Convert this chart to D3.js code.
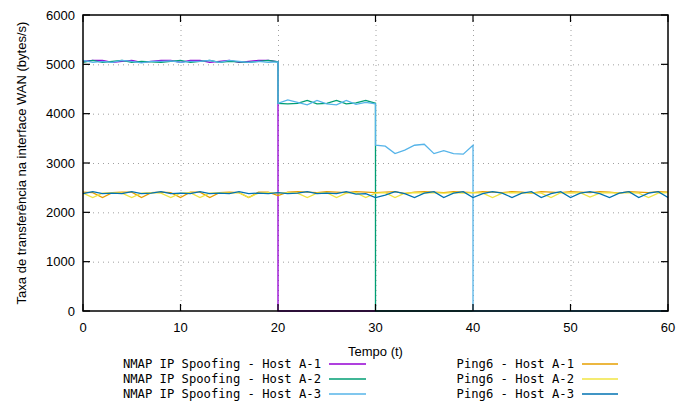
<!DOCTYPE html>
<html>
<head>
<meta charset="utf-8">
<script src="https://cdn.jsdelivr.net/npm/d3@7"></script>
<style>
  html, body { margin: 0; padding: 0; background: #fff; }
  svg { display: block; }
</style>
</head>
<body>
<div id="chart"></div>
<script>
// --- data (1 sample per second)
const X_TICKS = [0, 10, 20, 30, 40, 50, 60];
const Y_TICKS = [0, 1000, 2000, 3000, 4000, 5000, 6000];

// NMAP series: times repeat at the instant the host drops
const NMAP_A1_T = [0,1,2,3,4,5,6,7,8,9,10,11,12,13,14,15,16,17,18,19,20,20,60];
const NMAP_A1_V = [5060,5080,5080,5040,5060,5080,5040,5060,5080,5080,5040,5080,5080,5040,5060,5080,5040,5060,5080,5080,5050,0,0];

const NMAP_A2_T = [0,1,2,3,4,5,6,7,8,9,10,11,12,13,14,15,16,17,18,19,20,20,21,22,23,24,25,26,27,28,29,30,30,60];
const NMAP_A2_V = [5040,5080,5040,5060,5080,5040,5060,5050,5040,5060,5080,5040,5060,5080,5040,5060,5050,5040,5060,5080,5050,
                   4210,4200,4210,4270,4200,4210,4270,4200,4220,4270,4210,0,0];

const NMAP_A3_T = [0,1,2,3,4,5,6,7,8,9,10,11,12,13,14,15,16,17,18,19,20,20,21,22,23,24,25,26,27,28,29,30,30,31,32,33,34,35,36,37,38,39,40,40,60];
const NMAP_A3_V = [5080,5040,5060,5040,5080,5060,5030,5060,5060,5070,5040,5060,5060,5080,5040,5080,5060,5040,5060,5040,5050,
                   4210,4280,4230,4180,4270,4200,4180,4270,4190,4230,4200,
                   3360,3340,3190,3260,3360,3380,3190,3250,3190,3180,3360,0,0];

const PING_T = d3.range(0, 61);
const PING_A1 = [2410,2400,2300,2400,2410,2410,2300,2400,2410,2400,2300,2410,2410,2300,2400,2410,2400,2300,2410,2410,
                 2340,2410,2420,2410,2400,2420,2410,2400,2420,2410,2400,2410,2420,2380,2410,2420,2410,2400,2420,2410,
                 2400,2420,2410,2400,2420,2410,2390,2420,2410,2400,2420,2410,2400,2420,2410,2390,2420,2410,2400,2420,2410];
const PING_A2 = [2390,2300,2390,2400,2390,2300,2390,2400,2390,2300,2390,2400,2300,2390,2400,2390,2400,2300,2390,2400,
                 2390,2400,2390,2300,2390,2400,2300,2390,2400,2300,2390,2400,2300,2390,2400,2390,2400,2390,2400,2390,
                 2400,2390,2300,2390,2400,2390,2400,2390,2300,2400,2390,2400,2310,2390,2400,2390,2400,2390,2300,2390,2400];
const PING_A3 = [2380,2420,2380,2390,2380,2420,2380,2390,2420,2380,2390,2380,2420,2380,2390,2380,2420,2380,2390,2380,
                 2400,2380,2390,2420,2380,2390,2380,2420,2370,2380,2300,2350,2420,2380,2300,2390,2420,2300,2390,2420,
                 2300,2380,2420,2390,2300,2390,2420,2300,2380,2420,2300,2390,2420,2380,2300,2390,2420,2300,2390,2420,2300];

const SERIES = [
  { name: "NMAP IP Spoofing - Host A-1", color: "#9400d3", t: NMAP_A1_T, v: NMAP_A1_V },
  { name: "NMAP IP Spoofing - Host A-2", color: "#009e73", t: NMAP_A2_T, v: NMAP_A2_V },
  { name: "NMAP IP Spoofing - Host A-3", color: "#56b4e9", t: NMAP_A3_T, v: NMAP_A3_V },
  { name: "Ping6 - Host A-1", color: "#e69f00", t: PING_T, v: PING_A1 },
  { name: "Ping6 - Host A-2", color: "#f0e442", t: PING_T, v: PING_A2 },
  { name: "Ping6 - Host A-3", color: "#0072b2", t: PING_T, v: PING_A3 }
];

// --- layout
const W = 678, H = 403;
const M = { left: 83, right: 10, top: 15, bottom: 92 };
const innerW = W - M.left - M.right;
const innerH = H - M.top - M.bottom;
const TICK = 7;

const svg = d3.select("#chart").append("svg")
  .attr("width", W).attr("height", H)
  .style("font-family", "'Liberation Sans', Arial, sans-serif");

const x = d3.scaleLinear().domain([0, 60]).range([M.left, M.left + innerW]);
const y = d3.scaleLinear().domain([0, 6000]).range([M.top + innerH, M.top]);

// grid (dotted)
const grid = svg.append("g").attr("stroke", "#a0a0a0").attr("stroke-width", 1).attr("stroke-dasharray", "1,4");
grid.selectAll(".gx").data(X_TICKS.slice(1, -1)).enter().append("line")
  .attr("x1", d => x(d) + 0.5).attr("x2", d => x(d) + 0.5)
  .attr("y1", y(0)).attr("y2", y(6000));
grid.selectAll(".gy").data(Y_TICKS.slice(1, -1)).enter().append("line")
  .attr("y1", d => y(d) + 0.5).attr("y2", d => y(d) + 0.5)
  .attr("x1", x(0)).attr("x2", x(60));

// series lines
const line = d3.line().x(d => x(d[0])).y(d => y(d[1]));
svg.append("g").selectAll("path").data(SERIES).enter().append("path")
  .attr("fill", "none")
  .attr("stroke", d => d.color)
  .attr("stroke-width", 1.3)
  .attr("stroke-linejoin", "miter")
  .attr("d", d => line(d.t.map((t, i) => [t, d.v[i]])));

// tick marks inward, mirrored on all sides
const ticks = svg.append("g").attr("stroke", "#000").attr("stroke-width", 1.2);
X_TICKS.forEach(t => {
  ticks.append("line").attr("x1", x(t)).attr("x2", x(t)).attr("y1", y(0)).attr("y2", y(0) - TICK);
  ticks.append("line").attr("x1", x(t)).attr("x2", x(t)).attr("y1", y(6000)).attr("y2", y(6000) + TICK);
});
Y_TICKS.forEach(t => {
  ticks.append("line").attr("y1", y(t)).attr("y2", y(t)).attr("x1", x(0)).attr("x2", x(0) + TICK);
  ticks.append("line").attr("y1", y(t)).attr("y2", y(t)).attr("x1", x(60)).attr("x2", x(60) - TICK);
});

// border
svg.append("rect")
  .attr("x", x(0)).attr("y", y(6000))
  .attr("width", x(60) - x(0)).attr("height", y(0) - y(6000))
  .attr("fill", "none").attr("stroke", "#000").attr("stroke-width", 1.5);

// tick labels
svg.append("g").selectAll("text").data(X_TICKS).enter().append("text")
  .attr("x", d => x(d)).attr("y", y(0) + 21)
  .attr("text-anchor", "middle").attr("font-size", 13).attr("fill", "#000")
  .text(d => d);
svg.append("g").selectAll("text").data(Y_TICKS).enter().append("text")
  .attr("x", x(0) - 8).attr("y", d => y(d)).attr("dy", "0.35em")
  .attr("text-anchor", "end").attr("font-size", 13).attr("fill", "#000")
  .text(d => d);

// axis titles
svg.append("text")
  .attr("x", (x(0) + x(60)) / 2).attr("y", 356)
  .attr("text-anchor", "middle").attr("font-size", 13)
  .text("Tempo (t)");
svg.append("text")
  .attr("transform", `translate(26, ${(y(0) + y(6000)) / 2}) rotate(-90)`)
  .attr("text-anchor", "middle").attr("font-size", 13)
  .text("Taxa de transferência na interface WAN (bytes/s)");

// legend, two columns of three
const legend = svg.append("g")
  .style("font-family", "'DejaVu Sans Mono', 'Liberation Mono', monospace")
  .attr("font-size", 12.2);
const COLS = [{ textEnd: 321, x1: 329, x2: 366 }, { textEnd: 574, x1: 582, x2: 618 }];
SERIES.forEach((s, i) => {
  const col = COLS[Math.floor(i / 3)];
  const row = i % 3;
  const yy = 364 + row * 15;
  legend.append("text").attr("x", col.textEnd).attr("y", yy).attr("dy", "0.35em")
    .attr("text-anchor", "end").text(s.name);
  legend.append("line").attr("x1", col.x1).attr("x2", col.x2).attr("y1", yy).attr("y2", yy)
    .attr("stroke", s.color).attr("stroke-width", 1.3);
});
</script>
</body>
</html>
